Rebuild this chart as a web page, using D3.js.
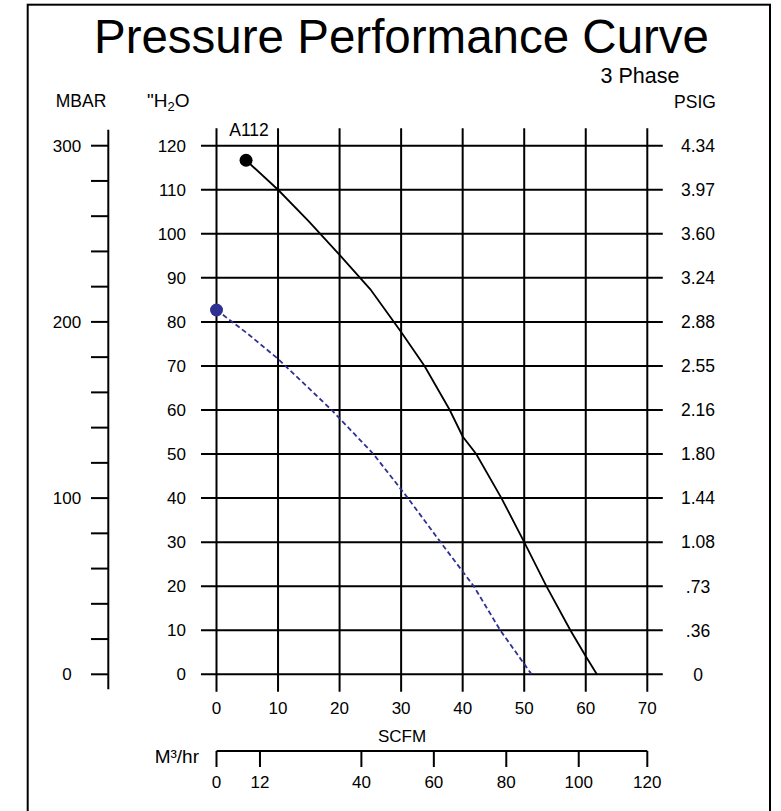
<!DOCTYPE html>
<html>
<head>
<meta charset="utf-8">
<script src="https://cdn.jsdelivr.net/npm/d3@7"></script>
<style>
  body { margin: 0; background: #fff; }
  text { font-family: "Liberation Sans", Arial, sans-serif; fill: #000; }
</style>
</head>
<body>
<div id="chart"></div>
<script>
// Chart size
const width = 781, height = 811;

// Axis values
const scfmTicks = [0, 10, 20, 30, 40, 50, 60, 70];
const h2oTicks = [0, 10, 20, 30, 40, 50, 60, 70, 80, 90, 100, 110, 120];
const psigLabels = ["0", ".36", ".73", "1.08", "1.44", "1.80", "2.16", "2.55", "2.88", "3.24", "3.60", "3.97", "4.34"];
const mbarTicks = [0, 20, 40, 60, 80, 100, 120, 140, 160, 180, 200, 220, 240, 260, 280, 300];
const mbarLabels = [0, 100, 200, 300];
const m3Ticks = [0, 12, 40, 60, 80, 100, 120];

// Curves: [SCFM, inches H2O]
const curveA112 = [
  [4.8, 116.7], [10, 110], [15, 102.8], [20, 95.2], [25, 87.4], [30, 77.7],
  [33.8, 70], [37.9, 60], [40, 54], [42.2, 50], [46.3, 40], [50, 30],
  [53.6, 20], [57.5, 10], [60, 4.1], [61.8, 0]
];
const curveDashed = [
  [0, 82.7], [5, 77.4], [10, 71.6], [18.7, 60], [25.5, 50], [31.1, 40],
  [36.4, 30], [41.8, 20], [46.1, 10], [51.2, 0]
];

const svg = d3.select("#chart").append("svg")
  .attr("width", width)
  .attr("height", height);

// Scales
const x = d3.scaleLinear().domain([0, 70]).range([216.5, 647.3]);
const y = d3.scaleLinear().domain([0, 120]).range([674.3, 145.7]);
const yMbar = d3.scaleLinear().domain([0, 300]).range([674.3, 145.7]);
// 1 SCFM = 1.699 M3/hr, axis ends at 70 SCFM
const xM3 = d3.scaleLinear().domain([0, 70 * 1.699]).range([216.5, 647.3]).clamp(true);

// Outer frame (bottom edge runs off the picture)
svg.append("rect")
  .attr("x", 27.7)
  .attr("y", 4.7)
  .attr("width", 742.3)
  .attr("height", 820)
  .attr("fill", "none")
  .attr("stroke", "#000")
  .attr("stroke-width", 2);

// Titles
svg.append("text")
  .attr("x", 401.5)
  .attr("y", 52.5)
  .attr("text-anchor", "middle")
  .style("font-size", "47.5px")
  .text("Pressure Performance Curve");

svg.append("text")
  .attr("x", 640)
  .attr("y", 82.5)
  .attr("text-anchor", "middle")
  .style("font-size", "21.5px")
  .text("3 Phase");

svg.append("text")
  .attr("x", 81)
  .attr("y", 107)
  .attr("text-anchor", "middle")
  .style("font-size", "17.5px")
  .text("MBAR");

const h2oTitle = svg.append("text")
  .attr("x", 147)
  .attr("y", 107)
  .style("font-size", "19px");
h2oTitle.append("tspan").text("\"H");
h2oTitle.append("tspan").attr("dy", 4).style("font-size", "13px").text("2");
h2oTitle.append("tspan").attr("dy", -4).text("O");

svg.append("text")
  .attr("x", 695)
  .attr("y", 108)
  .attr("text-anchor", "middle")
  .style("font-size", "17.5px")
  .text("PSIG");

// === Grid ===
const grid = svg.append("g").attr("stroke", "#000").attr("stroke-width", 2);

grid.selectAll(".vgrid")
  .data(scfmTicks)
  .enter()
  .append("line")
  .attr("class", "vgrid")
  .attr("x1", d => x(d))
  .attr("x2", d => x(d))
  .attr("y1", y(120) - 17.5)
  .attr("y2", y(0) + 17.5);

grid.selectAll(".hgrid")
  .data(h2oTicks)
  .enter()
  .append("line")
  .attr("class", "hgrid")
  .attr("x1", x(0) - 15.5)
  .attr("x2", x(70) + 15.5)
  .attr("y1", d => y(d))
  .attr("y2", d => y(d));

// H2O labels on the left
svg.selectAll(".h2o-label")
  .data(h2oTicks)
  .enter()
  .append("text")
  .attr("class", "h2o-label")
  .attr("x", 186)
  .attr("y", d => y(d))
  .attr("dy", "0.36em")
  .attr("text-anchor", "end")
  .style("font-size", "17px")
  .text(d => d);

// PSIG labels on the right
svg.selectAll(".psig-label")
  .data(h2oTicks)
  .enter()
  .append("text")
  .attr("class", "psig-label")
  .attr("x", 698)
  .attr("y", d => y(d))
  .attr("dy", "0.36em")
  .attr("text-anchor", "middle")
  .style("font-size", "17.5px")
  .text((d, i) => psigLabels[i]);

// SCFM labels
svg.selectAll(".scfm-label")
  .data(scfmTicks)
  .enter()
  .append("text")
  .attr("class", "scfm-label")
  .attr("x", d => x(d))
  .attr("y", 713.5)
  .attr("text-anchor", "middle")
  .style("font-size", "17px")
  .text(d => d);

svg.append("text")
  .attr("x", 402)
  .attr("y", 741.5)
  .attr("text-anchor", "middle")
  .style("font-size", "17px")
  .text("SCFM");

// === MBAR axis ===
const mbarAxis = svg.append("g").attr("stroke", "#000").attr("stroke-width", 2);
mbarAxis.append("line")
  .attr("x1", 108.3).attr("x2", 108.3)
  .attr("y1", yMbar(300) - 16)
  .attr("y2", yMbar(0) + 15);
mbarAxis.selectAll(".mbar-tick")
  .data(mbarTicks)
  .enter()
  .append("line")
  .attr("class", "mbar-tick")
  .attr("x1", 91).attr("x2", 108.3)
  .attr("y1", d => yMbar(d))
  .attr("y2", d => yMbar(d));

svg.selectAll(".mbar-label")
  .data(mbarLabels)
  .enter()
  .append("text")
  .attr("class", "mbar-label")
  .attr("x", 67)
  .attr("y", d => yMbar(d))
  .attr("dy", "0.36em")
  .attr("text-anchor", "middle")
  .style("font-size", "17px")
  .text(d => d);

// === M3/hr axis ===
const m3Axis = svg.append("g").attr("stroke", "#000").attr("stroke-width", 2);
m3Axis.append("line")
  .attr("x1", xM3(0)).attr("x2", xM3(120))
  .attr("y1", 751).attr("y2", 751);
m3Axis.selectAll(".m3-tick")
  .data(m3Ticks)
  .enter()
  .append("line")
  .attr("class", "m3-tick")
  .attr("x1", d => xM3(d)).attr("x2", d => xM3(d))
  .attr("y1", 751).attr("y2", 767);

svg.selectAll(".m3-label")
  .data(m3Ticks)
  .enter()
  .append("text")
  .attr("class", "m3-label")
  .attr("x", d => xM3(d))
  .attr("y", 788)
  .attr("text-anchor", "middle")
  .style("font-size", "17px")
  .text(d => d);

svg.append("text")
  .attr("x", 199)
  .attr("y", 763)
  .attr("text-anchor", "end")
  .style("font-size", "19px")
  .text("M³/hr");

// === Curves ===
const line = d3.line()
  .x(d => x(d[0]))
  .y(d => y(d[1]));

svg.append("path")
  .datum(curveDashed)
  .attr("d", line)
  .attr("fill", "none")
  .attr("stroke", "#2e3192")
  .attr("stroke-width", 1.8)
  .attr("stroke-dasharray", "5,3");

svg.append("circle")
  .attr("cx", x(curveDashed[0][0]))
  .attr("cy", y(curveDashed[0][1]))
  .attr("r", 6.5)
  .attr("fill", "#2e3192");

svg.append("path")
  .datum(curveA112)
  .attr("d", line)
  .attr("fill", "none")
  .attr("stroke", "#000")
  .attr("stroke-width", 1.8);

svg.append("circle")
  .attr("cx", x(curveA112[0][0]))
  .attr("cy", y(curveA112[0][1]))
  .attr("r", 6.5)
  .attr("fill", "#000");

// Model label
svg.append("text")
  .attr("x", 249)
  .attr("y", 136)
  .attr("text-anchor", "middle")
  .style("font-size", "17.5px")
  .text("A112");
</script>
</body>
</html>
